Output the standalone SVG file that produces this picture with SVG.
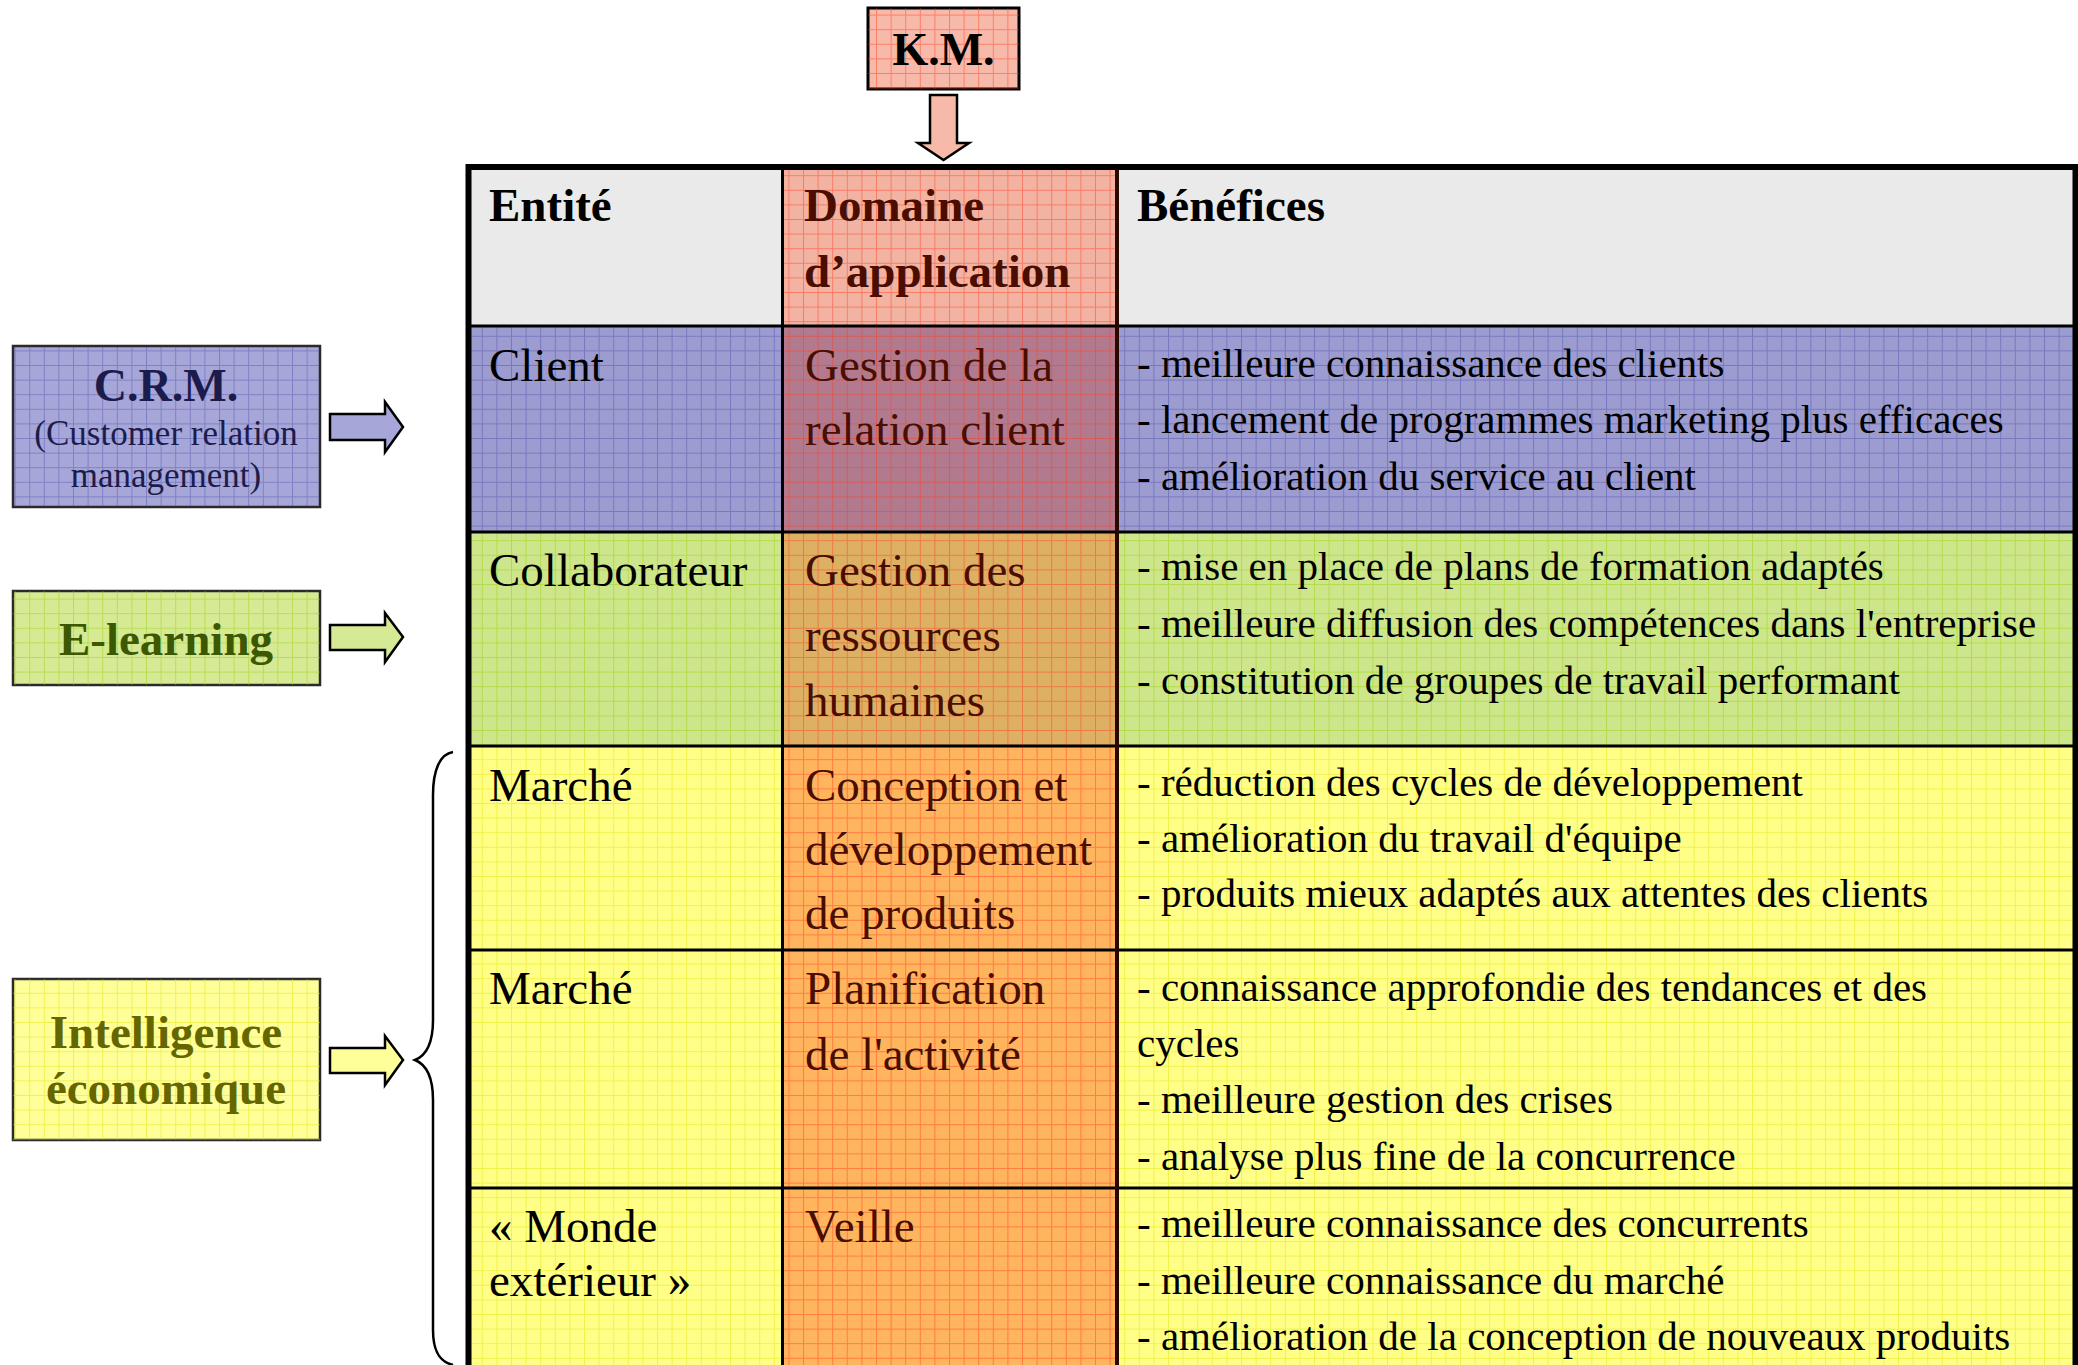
<svg xmlns="http://www.w3.org/2000/svg" width="2078" height="1365" viewBox="0 0 2078 1365">
<defs>
<style>
.t{font-family:"Liberation Serif","Times New Roman",serif;fill:#000}
.h{font-size:47px;font-weight:bold}
.c{font-size:47px}
.d{fill:#4a0d00}
.b{font-size:41px}
.box{stroke:#2a2a2a;stroke-width:2.5}
.arr{stroke:#000;stroke-width:2.5;stroke-linejoin:miter}
.rl{stroke:#000;stroke-width:3}
</style>
<pattern id="gBlue" patternUnits="userSpaceOnUse" width="14.6" height="14.6"><path d="M0,0.5H14.6M0.5,0V14.6" stroke="#3030a0" stroke-opacity="0.32" stroke-width="1" fill="none"/></pattern>
<pattern id="gGreen" patternUnits="userSpaceOnUse" width="14.6" height="14.6"><path d="M0,0.5H14.6M0.5,0V14.6" stroke="#99cc00" stroke-opacity="0.45" stroke-width="1" fill="none"/></pattern>
<pattern id="gYellow" patternUnits="userSpaceOnUse" width="14.6" height="14.6"><path d="M0,0.5H14.6M0.5,0V14.6" stroke="#e0e000" stroke-opacity="0.45" stroke-width="1" fill="none"/></pattern>
<pattern id="gRed" patternUnits="userSpaceOnUse" width="14.6" height="14.6"><path d="M0,0.5H14.6M0.5,0V14.6" stroke="#ff3a1a" stroke-opacity="0.45" stroke-width="1" fill="none"/></pattern>
</defs>
<rect width="2078" height="1365" fill="#fff"/>

<g id="table">
  <!-- header -->
  <rect x="468" y="167" width="314" height="159" fill="#eaeaea"/>
  <rect x="782" y="167" width="335" height="159" fill="#f2b3a3"/>
  <rect x="1117" y="167" width="958" height="159" fill="#eaeaea"/>
  <!-- client row -->
  <rect x="468" y="326" width="314" height="206" fill="#9c9cd0"/>
  <rect x="468" y="326" width="314" height="206" fill="url(#gBlue)"/>
  <rect x="782" y="326" width="335" height="206" fill="#b27a8e"/>
  <rect x="1117" y="326" width="958" height="206" fill="#9c9cd0"/>
  <rect x="1117" y="326" width="958" height="206" fill="url(#gBlue)"/>
  <!-- collab row -->
  <rect x="468" y="532" width="314" height="214" fill="#cde68b"/>
  <rect x="468" y="532" width="314" height="214" fill="url(#gGreen)"/>
  <rect x="782" y="532" width="335" height="214" fill="#ddb063"/>
  <rect x="1117" y="532" width="958" height="214" fill="#cde68b"/>
  <rect x="1117" y="532" width="958" height="214" fill="url(#gGreen)"/>
  <!-- yellow rows -->
  <rect x="468" y="746" width="314" height="619" fill="#ffff88"/>
  <rect x="468" y="746" width="314" height="619" fill="url(#gYellow)"/>
  <rect x="782" y="746" width="335" height="619" fill="#ffb45e"/>
  <rect x="1117" y="746" width="958" height="619" fill="#ffff88"/>
  <rect x="1117" y="746" width="958" height="619" fill="url(#gYellow)"/>
  <!-- red grid over domain column -->
  <rect x="782" y="167" width="335" height="1198" fill="url(#gRed)"/>
  <!-- row lines -->
  <path class="rl" d="M468,326H2075M468,532H2075M468,746H2075M468,950H2075M468,1188H2075"/>
  <path class="rl" d="M782.5,167V1365"/>
  <path d="M1117,167V1365" stroke="#2a0800" stroke-width="4"/>
  <!-- outer border -->
  <path d="M468.5,1365V167H2075.5V1365" fill="none" stroke="#000" stroke-width="6"/>

  <!-- header text -->
  <text class="t h" x="489" y="221">Entité</text>
  <text class="t h d" x="804" y="221">Domaine</text>
  <text class="t h d" x="804" y="287">d’application</text>
  <text class="t h" x="1137" y="221">Bénéfices</text>

  <!-- client -->
  <text class="t c" x="489" y="381">Client</text>
  <text class="t c d" x="805" y="381">Gestion de la</text>
  <text class="t c d" x="805" y="445">relation client</text>
  <text class="t b" x="1137" y="377">- meilleure connaissance des clients</text>
  <text class="t b" x="1137" y="433">- lancement de programmes marketing plus efficaces</text>
  <text class="t b" x="1137" y="490">- amélioration du service au client</text>

  <!-- collaborateur -->
  <text class="t c" x="489" y="586">Collaborateur</text>
  <text class="t c d" x="805" y="586">Gestion des</text>
  <text class="t c d" x="805" y="651">ressources</text>
  <text class="t c d" x="805" y="716">humaines</text>
  <text class="t b" x="1137" y="580">- mise en place de plans de formation adaptés</text>
  <text class="t b" x="1137" y="637">- meilleure diffusion des compétences dans l'entreprise</text>
  <text class="t b" x="1137" y="694">- constitution de groupes de travail performant</text>

  <!-- marché 1 -->
  <text class="t c" x="489" y="801">Marché</text>
  <text class="t c d" x="805" y="801">Conception et</text>
  <text class="t c d" x="805" y="865">développement</text>
  <text class="t c d" x="805" y="929">de produits</text>
  <text class="t b" x="1137" y="796">- réduction des cycles de développement</text>
  <text class="t b" x="1137" y="852">- amélioration du travail d'équipe</text>
  <text class="t b" x="1137" y="907">- produits mieux adaptés aux attentes des clients</text>

  <!-- marché 2 -->
  <text class="t c" x="489" y="1004">Marché</text>
  <text class="t c d" x="805" y="1004">Planification</text>
  <text class="t c d" x="805" y="1070">de l'activité</text>
  <text class="t b" x="1137" y="1001">- connaissance approfondie des tendances et des</text>
  <text class="t b" x="1137" y="1057">cycles</text>
  <text class="t b" x="1137" y="1113">- meilleure gestion des crises</text>
  <text class="t b" x="1137" y="1170">- analyse plus fine de la concurrence</text>

  <!-- monde extérieur -->
  <text class="t c" x="489" y="1242">« Monde</text>
  <text class="t c" x="489" y="1296">extérieur »</text>
  <text class="t c d" x="805" y="1242">Veille</text>
  <text class="t b" x="1137" y="1237">- meilleure connaissance des concurrents</text>
  <text class="t b" x="1137" y="1294">- meilleure connaissance du marché</text>
  <text class="t b" x="1137" y="1350">- amélioration de la conception de nouveaux produits</text>
</g>

<g id="km">
  <rect x="868" y="8" width="151" height="81" fill="#f7b9a9" stroke="#000" stroke-width="3"/>
  <rect x="868" y="8" width="151" height="81" fill="url(#gRed)"/>
  <text class="t" x="943.5" y="65" font-size="46" font-weight="bold" text-anchor="middle">K.M.</text>
</g>

<g id="crm">
  <rect class="box" x="13" y="346" width="307" height="161" fill="#a6a6d8"/>
  <rect x="13" y="346" width="307" height="161" fill="url(#gBlue)"/>
  <text class="t" x="166" y="401" font-size="46" font-weight="bold" text-anchor="middle" style="fill:#1c1c4c">C.R.M.</text>
  <text class="t" x="166" y="445" font-size="35" text-anchor="middle" style="fill:#1c1c4c">(Customer relation</text>
  <text class="t" x="166" y="487" font-size="35" text-anchor="middle" style="fill:#1c1c4c">management)</text>
</g>

<g id="elearning">
  <rect class="box" x="13" y="591" width="307" height="94" fill="#d6ea95"/>
  <rect x="13" y="591" width="307" height="94" fill="url(#gGreen)"/>
  <text class="t" x="166" y="655" font-size="47" font-weight="bold" text-anchor="middle" style="fill:#3c5800">E-learning</text>
</g>

<g id="intelligence">
  <rect class="box" x="13" y="979" width="307" height="161" fill="#ffff99"/>
  <rect x="13" y="979" width="307" height="161" fill="url(#gYellow)"/>
  <text class="t" x="166" y="1048" font-size="47" font-weight="bold" text-anchor="middle" style="fill:#666600">Intelligence</text>
  <text class="t" x="166" y="1104" font-size="47" font-weight="bold" text-anchor="middle" style="fill:#666600">économique</text>
</g>

<g id="connectors">
  <path class="arr" d="M930,95H957V143H969L943.5,160L918,143H930Z" fill="#f7b9a9"/>
  <path class="arr" d="M330,414H385V402L403,427L385,452V440H330Z" fill="#a6a6d8"/>
  <path class="arr" d="M330,625H385V613L403,637L385,662V650H330Z" fill="#d6ea95"/>
  <path class="arr" d="M330,1048H385V1036L403,1060L385,1085V1073H330Z" fill="#ffff99"/>
  <path d="M453,752C440,754 433,770 433,795V1020C433,1045 425,1056 415,1060C425,1064 433,1075 433,1100V1330C433,1352 440,1362 453,1365" fill="none" stroke="#000" stroke-width="2.5"/>
</g>
</svg>
